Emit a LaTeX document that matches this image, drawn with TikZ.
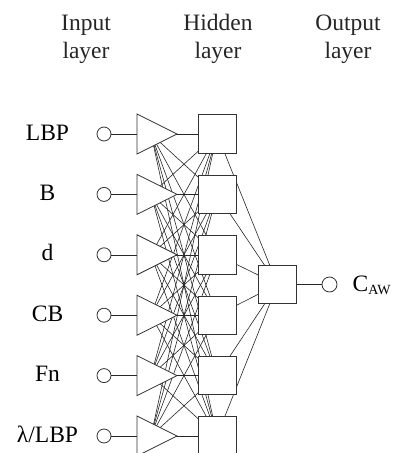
\documentclass[tikz,border=0pt]{standalone}
\usepackage{fontspec}
\setmainfont{Liberation Serif}
\begin{document}
\begin{tikzpicture}[x=1pt,y=-1pt,
  wire/.style={line width=0.6pt, draw=black!85},
  shp/.style={line width=0.8pt, draw=black!80, fill=white},
  incirc/.style={shp, circle, inner sep=0pt, minimum size=14pt},
  hbox/.style={shp, rectangle, inner sep=0pt, minimum width=38pt, minimum height=38.5pt},
  lbl/.style={font=\fontsize{23.5}{23.5}\selectfont, inner sep=0pt, anchor=base},
  ttl/.style={font=\fontsize{23.5}{28}\selectfont, inner sep=0pt, anchor=base, text=black!85}]
\useasboundingbox (0,0) rectangle (395,453);
% titles
\node[ttl] (tin1) at (86,30) {Input};
\node[ttl] (tin2) at (86,58) {layer};
\node[ttl] (thid1) at (218,30) {Hidden};
\node[ttl] (thid2) at (218,58) {layer};
\node[ttl] (tout1) at (348,30) {Output};
\node[ttl] (tout2) at (348,58) {layer};
% rows
\foreach \i/\y in {1/134,2/194.4,3/254.8,4/315.2,5/375.6,6/436}{
  \coordinate (t\i) at (151,\y);
  \node[hbox] (h\i) at (217,\y) {};
  \node[incirc] (c\i) at (104,\y) {};
}
\node[hbox] (o) at (277.5,284.5) {};
\node[incirc, minimum size=15pt] (co) at (329.5,284.5) {};
% connectors (drawn first, shapes refilled on top)
\foreach \i in {1,...,6}{
  \foreach \j in {1,...,6}{
    \draw[wire] (t\i) -- (h\j.center);
  }
  \draw[wire] (h\i.center) -- (o.center);
  \draw[wire] (c\i) -- (t\i);
}
\draw[wire] (o) -- (co);
% shapes on top
\foreach \i/\y in {1/134,2/194.4,3/254.8,4/315.2,5/375.6,6/436}{
  \filldraw[shp] (137,\y-20) -- (177,\y) -- (137,\y+20) -- cycle;
  \node[hbox] at (h\i) {};
}
\node[hbox] at (o) {};
% labels
\node[lbl] (l1) at (47.5,140) {LBP};
\node[lbl] (l2) at (47.5,200.4) {B};
\node[lbl] (l3) at (47.5,260.8) {d};
\node[lbl] (l4) at (47.5,321.2) {CB};
\node[lbl] (l5) at (47.5,381.6) {Fn};
\node[lbl] (l6) at (47.5,442) {λ/LBP};
\node[lbl, anchor=base west] (lo) at (352.5,291.7) {C{\fontsize{14}{14}\selectfont\raisebox{-2.5pt}{AW}}};
\end{tikzpicture}
\end{document}
